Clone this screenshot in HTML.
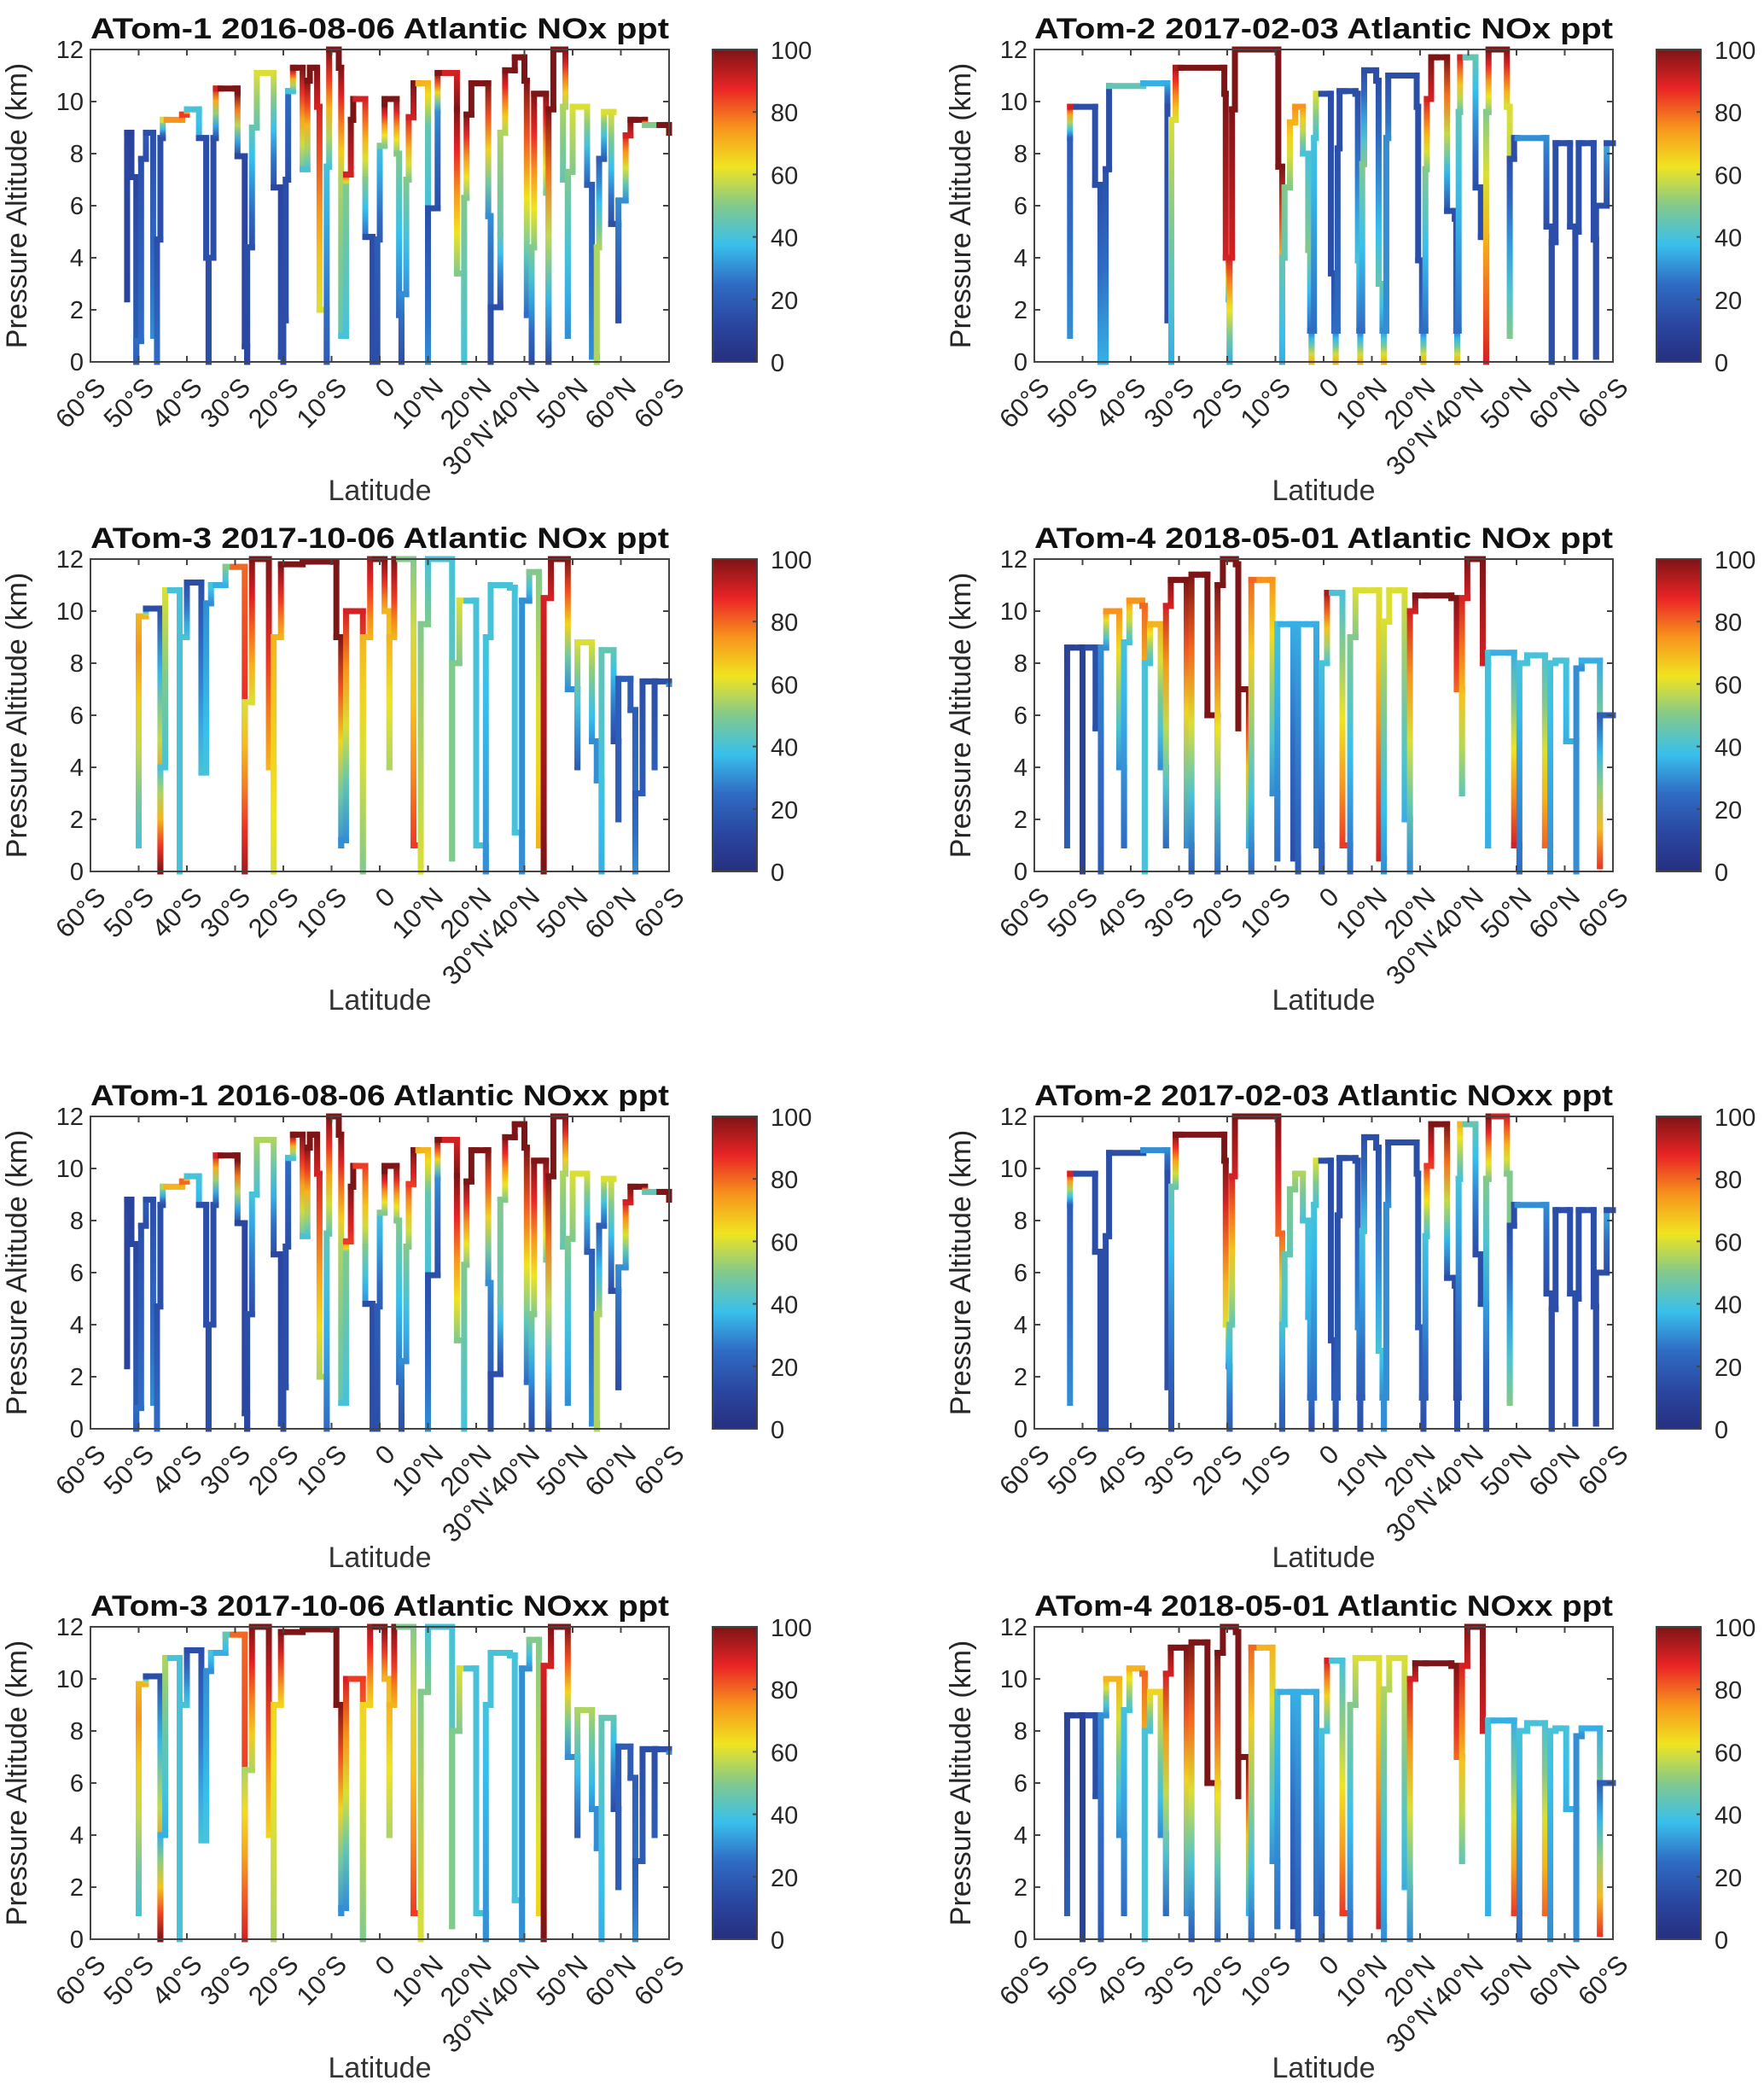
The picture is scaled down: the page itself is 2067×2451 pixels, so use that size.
<!DOCTYPE html>
<html><head><meta charset="utf-8">
<style>
html,body{margin:0;padding:0;background:#fff;}
svg{display:block;font-family:"Liberation Sans",Arial,sans-serif;}
</style></head>
<body>
<svg id="fig" xmlns="http://www.w3.org/2000/svg" width="2067" height="2451" viewBox="0 0 2067 2451">
<rect width="2067" height="2451" fill="#fff"/>
<defs>
<linearGradient id="jetbar" x1="0" y1="1" x2="0" y2="0">
<stop offset="0" stop-color="#262f7f"/><stop offset="0.12" stop-color="#2a46a0"/>
<stop offset="0.25" stop-color="#2f6cc4"/><stop offset="0.375" stop-color="#38c0ec"/>
<stop offset="0.5" stop-color="#82c98c"/><stop offset="0.625" stop-color="#f0e420"/>
<stop offset="0.75" stop-color="#f7941d"/><stop offset="0.875" stop-color="#ea2426"/>
<stop offset="1" stop-color="#7d1416"/>
</linearGradient>
</defs>
</svg>
<script>
// ---- axis tick data ----
const xTickPos = [0,1,2,3,4,5,6,7,8,9,9,10,11,12];
const xTickLabels = ['60°S','50°S','40°S','30°S','20°S','10°S','0','10°N','20°N','30°N\'','40°N','50°N','60°N','60°S'];
const yTicks = [0,2,4,6,8,10,12];
const cbTicks = [0,20,40,60,80,100];

// ---- ATom-1 track ----
const a1Lat = [0.76,0.76,0.85,0.85,0.95,0.95,1.05,1.05,1.15,1.15,1.3,1.3,1.38,1.45,1.5,1.58,1.9,2.0,2.2,2.25,2.35,2.4,2.45,2.55,2.6,2.7,3.0,3.05,3.05,3.15,3.2,3.25,3.35,3.45,3.6,3.75,3.8,3.95,3.95,4.0,4.05,4.1,4.1,4.2,4.25,4.4,4.4,4.5,4.55,4.65,4.7,4.75,4.9,4.95,5.0,5.15,5.2,5.2,5.3,5.3,5.4,5.45,5.5,5.7,5.7,5.7,5.8,5.85,5.95,6.0,6.0,6.1,6.1,6.3,6.35,6.4,6.45,6.55,6.6,6.7,6.8,6.95,7.0,7.0,7.1,7.2,7.2,7.35,7.5,7.6,7.6,7.75,7.8,7.9,8.0,8.2,8.25,8.3,8.4,8.5,8.5,8.6,8.8,8.95,9.0,9.05,9.15,9.2,9.3,9.4,9.45,9.5,9.6,9.7,9.85,9.85,9.8,9.9,10.0,10.1,10.2,10.3,10.4,10.5,10.55,10.65,10.75,10.85,10.8,10.9,10.95,11.1,11.2,11.3,11.5,11.8,11.9,12];
const a1Alt = [2.4,8.2,8.8,7.1,7.1,0,0.8,7.8,7.8,8.8,8.8,1.0,0,4.7,8.6,9.3,9.3,9.5,9.7,8.6,8.6,4.0,0,4.0,8.6,10.5,10.5,10.3,7.9,7.9,0.6,0,4.4,9,11.1,11.1,6.7,6.7,0.2,0,1.6,7,10.4,10.4,11.3,11.3,7.4,7.4,10.8,11.3,9.8,2,0,7.5,12,11.3,7,1,1,6.8,7.2,9.3,10.1,10.1,7,4.8,4.8,0,0,4.7,8.3,8.3,9.9,10.1,8,1.8,0,2.6,7,9.4,10.7,10.7,9,0,5.9,5.9,9.6,11.1,11.1,9.7,3.4,0,6.3,9.5,10.7,10.7,5.6,0,2.1,2.1,4.9,8.8,11.2,11.7,10.8,1.8,0,4.4,10.3,10.3,6.5,0,9.7,12,12,9.8,7,1.0,7.3,9.8,9.8,6.8,0.2,0,4.4,7.8,9.6,9.6,5.3,5.3,1.6,6.2,8.7,9.3,9.1,9.1,9.1,8.8];
const p1Val = [10,12,10,12,12,20,25,15,15,20,15,30,25,15,15,60,75,85,40,35,15,15,15,15,15,90,100,100,12,12,12,12,15,45,60,60,15,12,15,15,15,15,25,40,100,100,45,40,100,100,90,60,20,40,100,100,55,45,40,50,90,100,100,90,50,25,15,15,15,20,40,50,100,100,50,25,15,30,50,90,100,70,45,30,15,15,30,100,90,100,50,40,50,100,100,100,30,15,15,15,45,55,100,100,100,25,15,50,100,100,50,15,100,100,100,55,45,30,50,60,60,20,30,55,55,20,60,60,15,15,15,30,90,100,50,50,100,100];
const p5Val = [10,12,10,12,12,20,25,15,15,20,15,30,25,15,15,55,70,80,40,35,15,15,15,15,15,90,100,100,12,12,12,12,15,40,55,55,15,12,15,15,15,15,25,40,100,100,45,40,100,100,90,55,25,45,100,100,55,45,40,50,85,100,100,85,50,30,15,15,15,20,40,50,100,100,50,25,15,30,50,85,100,70,45,30,15,15,30,100,90,100,50,40,50,100,100,100,30,15,15,15,45,50,100,100,100,25,15,50,100,100,50,15,100,100,100,55,45,30,50,60,60,20,30,55,55,20,60,60,15,15,15,30,90,100,45,45,100,100];

// ---- ATom-2 track ----
const a2Lat = [0.74,0.74,0.87,1.26,1.26,1.37,1.37,1.48,1.55,1.55,2.26,2.26,2.69,2.76,2.76,2.84,2.93,3.04,3.89,3.94,3.97,4.03,4.05,4.10,4.16,4.27,5.03,5.06,5.14,5.19,5.30,5.41,5.49,5.57,5.68,5.72,5.75,5.80,5.84,5.95,6.11,6.15,6.22,6.25,6.29,6.33,6.44,6.66,6.71,6.74,6.76,6.80,6.84,6.93,7.09,7.14,7.22,7.25,7.30,7.34,7.45,7.85,7.93,7.96,8.04,8.07,8.11,8.14,8.23,8.34,8.53,8.56,8.72,8.75,8.77,8.80,8.83,8.94,9.10,9.15,9.26,9.37,9.42,9.53,9.75,9.80,9.86,9.95,10.02,10.56,10.62,10.73,10.81,10.87,11.05,11.11,11.22,11.29,11.38,11.57,11.60,11.65,11.73,11.87,11.87,12];
const a2Alt = [1.0,8.6,9.8,9.8,6.8,6.8,0,0,7.4,10.6,10.6,10.7,10.7,9.8,1.6,0,9.3,11.3,11.3,10.3,4,2.4,0,4,9.7,12,12,7.5,0,4,6.7,9.2,9.8,8,4.3,1.2,0,1.2,8.6,10.3,10.3,3.4,1.2,0,1.2,8.2,10.4,10.3,3.9,1.2,0,1.2,7.6,11.2,10.8,3,1.2,0,1.2,8.6,11,11,9.8,3.9,1.2,0,1.2,7.4,10.1,11.7,11.7,5.8,5.5,1.2,0,1.2,9.6,11.7,11.7,6.7,4.8,0,9.6,12,12,9.8,1.0,7.8,8.6,8.6,5.2,0,4.6,8.4,8.4,5.2,0.2,5,8.4,8.4,4.7,0.2,6,6,8.4,8.4];
const p2Val = [30,20,90,15,15,15,35,35,15,15,45,35,35,15,15,35,60,95,100,100,90,40,35,90,100,100,100,100,35,45,50,70,75,40,50,25,70,25,40,60,15,15,25,70,25,15,15,15,40,25,70,25,50,15,15,45,30,70,30,30,15,15,15,15,25,70,25,50,90,100,100,15,15,25,70,25,45,90,45,15,15,90,50,100,100,60,50,15,15,30,15,15,15,15,15,15,15,15,15,15,15,15,15,15,35,15];
const p6Val = [30,20,90,15,15,15,15,15,15,15,15,30,30,15,15,15,45,100,100,100,60,30,20,45,90,100,100,80,20,40,45,50,55,40,35,25,15,25,40,60,15,15,20,15,20,15,15,15,30,20,15,20,40,15,15,40,30,30,30,30,15,15,15,20,20,15,20,40,85,100,100,15,15,15,15,15,40,70,45,15,15,15,50,100,90,50,50,15,15,30,15,15,15,15,15,15,15,15,15,15,15,15,15,15,35,15];

// ---- ATom-3 track ----
const a3Lat = [1.0,1.0,1.15,1.4,1.45,1.55,1.65,1.8,1.85,2.0,2.05,2.25,2.3,2.4,2.5,2.6,2.8,2.95,3.1,3.2,3.35,3.5,3.6,3.7,3.8,3.95,4.0,4.4,4.5,5.0,5.1,5.2,5.3,5.4,5.55,5.65,5.8,5.9,6.0,6.1,6.2,6.3,6.4,6.6,6.7,6.85,7.0,7.1,7.35,7.5,7.65,7.8,7.95,8.0,8.2,8.3,8.5,8.7,8.8,8.95,9.1,9.25,9.3,9.4,9.55,9.7,9.8,9.9,10.1,10.2,10.4,10.5,10.6,10.7,10.85,10.95,11.05,11.2,11.3,11.45,11.55,11.7,11.75,12];
const a3Alt = [1,8.5,9.8,10.1,0,4,10.8,10.8,0,9,11.1,11.1,3.8,3.8,10.3,11,11,11.7,11.7,0,6.5,12,12,4,0,9,11.8,11.8,11.9,11.9,9,1,1.2,10,10,0,9,12,12,10,4,9,12,12,1,0,9.5,12,12,0.5,8,10.4,10.4,1,0,9,11,10.9,1.5,0,10.4,11.5,1,0,10.5,12,12,7,4,8.8,5,3.5,0,8.5,5,2,7.4,6.2,0,3,7.3,4,7.3,7.2];
const p3Val = [40,75,70,15,100,40,60,40,40,40,15,15,40,40,30,40,35,50,80,95,60,100,100,70,60,70,100,100,100,100,100,30,30,90,90,50,70,95,100,70,55,70,100,50,85,60,50,40,40,50,50,60,40,40,30,40,40,40,40,30,30,50,70,100,90,100,100,30,20,60,30,30,35,45,15,20,20,20,30,20,15,20,15,30];
const p7Val = [40,75,70,15,100,35,55,40,40,40,15,15,40,40,30,40,35,45,80,90,55,100,100,65,55,65,100,100,100,100,100,30,30,90,85,50,65,95,100,70,55,70,100,50,85,60,50,40,40,50,50,60,40,40,30,40,40,40,40,30,30,50,65,100,90,100,100,30,20,55,30,30,35,45,15,20,20,20,30,20,15,20,15,30];

// ---- ATom-4 track ----
const a4Lat = [0.68,0.78,0.95,1.00,1.11,1.22,1.27,1.38,1.49,1.65,1.76,1.86,1.97,2.08,2.24,2.29,2.40,2.51,2.62,2.73,2.83,2.94,3.10,3.16,3.26,3.37,3.53,3.59,3.80,3.91,4.02,4.18,4.23,4.40,4.45,4.50,4.67,4.88,4.94,5.04,5.10,5.31,5.37,5.47,5.64,5.80,5.85,5.96,6.07,6.17,6.34,6.39,6.55,6.66,6.82,7.04,7.15,7.25,7.36,7.58,7.68,7.79,7.90,8.12,8.65,8.76,8.87,8.98,9.09,9.25,9.30,9.41,9.52,9.84,9.95,10.06,10.22,10.38,10.59,10.70,10.81,10.92,11.03,11.24,11.35,11.46,11.67,11.73,11.83,12];
const a4Alt = [1,8.6,8.6,0,8.6,8.6,5.5,0,8.6,10,4,1,8.8,10.4,10.2,0,8,9.5,4,1,10.2,11.2,11.2,1,0,11.4,11.4,6,0,11,12,11.8,5.5,7,1,0,11.2,11.2,3,0.5,9.5,9.5,0.5,0,9.5,9.5,1,0,8,10.7,10.7,1,0,9,10.8,10.8,0.5,0,9.6,10.8,2,0,10,10.6,10.5,7,3,10.5,12,12,8,1,8.4,8.4,1,0,8,8.3,1,0,8,8.1,5,0,7.8,8.1,8.1,0.2,6,6];
const p4Val = [20,10,10,10,10,15,15,20,30,75,30,25,40,75,80,40,40,70,30,25,90,100,100,30,20,100,100,100,25,100,100,100,100,100,35,25,80,75,30,25,40,35,15,20,35,35,25,20,40,95,40,85,25,50,60,60,90,30,60,60,35,30,90,100,100,80,45,90,100,100,90,35,40,35,90,25,40,40,80,30,40,40,35,30,30,35,35,85,20,20];
const p8Val = [20,10,10,10,10,15,15,20,30,70,30,25,40,70,80,40,40,65,30,25,90,100,100,30,20,100,100,100,25,100,100,100,100,100,35,25,80,70,30,25,40,35,15,20,35,35,25,20,40,90,40,85,25,50,60,60,90,30,55,60,35,30,90,100,100,80,45,90,100,100,90,35,40,35,85,25,40,40,80,30,40,40,35,30,30,35,35,85,20,20];

// ---- panel layout ----
const colX = [106, 1212];
const rowY = [58, 655, 1308, 1906];
const PW = 678, PH = 366;

const panels = [
 {t:'ATom-1 2016-08-06  Atlantic  NOx  ppt', lat:a1Lat, alt:a1Alt, val:p1Val, c:0, r:0},
 {t:'ATom-2 2017-02-03  Atlantic  NOx  ppt', lat:a2Lat, alt:a2Alt, val:p2Val, c:1, r:0},
 {t:'ATom-3 2017-10-06  Atlantic  NOx  ppt', lat:a3Lat, alt:a3Alt, val:p3Val, c:0, r:1},
 {t:'ATom-4 2018-05-01  Atlantic  NOx  ppt', lat:a4Lat, alt:a4Alt, val:p4Val, c:1, r:1},
 {t:'ATom-1 2016-08-06  Atlantic  NOxx ppt', lat:a1Lat, alt:a1Alt, val:p5Val, c:0, r:2},
 {t:'ATom-2 2017-02-03  Atlantic  NOxx ppt', lat:a2Lat, alt:a2Alt, val:p6Val, c:1, r:2},
 {t:'ATom-3 2017-10-06  Atlantic  NOxx ppt', lat:a3Lat, alt:a3Alt, val:p7Val, c:0, r:3},
 {t:'ATom-4 2018-05-01  Atlantic  NOxx ppt', lat:a4Lat, alt:a4Alt, val:p8Val, c:1, r:3}
];

const NS = 'http://www.w3.org/2000/svg';
const svg = document.getElementById('fig');
const defs = svg.querySelector('defs');
function mk(tag, attrs, parent){
  const e = document.createElementNS(NS, tag);
  for (const k in attrs) e.setAttribute(k, attrs[k]);
  (parent||svg).appendChild(e);
  return e;
}
const cmapStops = [[0,[38,47,127]],[12,[42,70,160]],[25,[47,108,196]],[37.5,[56,192,236]],[50,[130,201,140]],[62.5,[240,228,32]],[75,[247,148,29]],[87.5,[234,36,38]],[100,[125,20,22]]];
function jet(v){
  v = Math.max(0, Math.min(100, v));
  for (let i=0;i<cmapStops.length-1;i++){
    const a=cmapStops[i], b=cmapStops[i+1];
    if (v<=b[0]){
      const t=(v-a[0])/(b[0]-a[0]);
      const c=a[1].map((x,k)=>Math.round(x+(b[1][k]-x)*t));
      return 'rgb('+c.join(',')+')';
    }
  }
  return 'rgb(125,20,22)';
}
let gid = 0;
function gradLine(parent, x1,y1,x2,y2,v1,v2){
  const id='sg'+(gid++);
  const lg = mk('linearGradient',{id:id, gradientUnits:'userSpaceOnUse', x1:x1, y1:y1, x2:x2+0.01, y2:y2+0.01}, defs);
  for (let k=0;k<=4;k++) mk('stop',{offset:k/4,'stop-color':jet(v1+(v2-v1)*k/4)},lg);
  const seg = mk('path',{d:'M'+x1+' '+y1+'L'+x2+' '+y2, stroke:'url(#'+id+')'}, parent);
  
  
}

panels.forEach((p, pi) => {
  const X0 = colX[p.c], Y0 = rowY[p.r];
  const xs = v => X0 + v/12*PW;
  const ys = v => Y0 + PH - v/12*PH;
  const g = mk('g', {});
  
  

  const title = mk('text', {x: X0 + PW/2, y: Y0 - 13, 'text-anchor':'middle', 'font-size':34, 'font-weight':'bold', fill:'#111', textLength: 678, lengthAdjust:'spacingAndGlyphs'}, g);
  title.textContent = p.t;
  
  

  const tg = mk('g', {'stroke-width':7, 'stroke-linecap':'square', fill:'none'}, g);
  
  
  const n = Math.min(p.lat.length, p.alt.length, p.val.length);
  for (let i=0;i<n-1;i++){
    const x1=xs(p.lat[i]), y1=ys(p.alt[i]), x2=xs(p.lat[i+1]), y2=ys(p.alt[i+1]);
    const v1=p.val[i], v2=p.val[i+1];
    if (p.alt[i+1] >= p.alt[i]) {
      if (y1!==y2) gradLine(tg, x1,y1,x1,y2,v1,v2);
      if (x1!==x2) gradLine(tg, x1,y2,x2,y2,v2,v2);
    } else {
      if (x1!==x2) gradLine(tg, x1,y1,x2,y1,v1,v1);
      gradLine(tg, x2,y1,x2,y2,v1,v2);
    }
  }

  const fr = mk('rect',{x:X0,y:Y0,width:PW,height:PH,fill:'none',stroke:'#444','stroke-width':2},g);
  
  

  yTicks.forEach(v => {
    const y = ys(v);
    mk('line',{x1:X0,y1:y,x2:X0+7,y2:y,stroke:'#444','stroke-width':2},g);
    mk('line',{x1:X0+PW,y1:y,x2:X0+PW-7,y2:y,stroke:'#444','stroke-width':2},g);
    const t = mk('text',{x:X0-8,y:y+10,'text-anchor':'end','font-size':29,fill:'#262626'},g);
    t.textContent = v;
    
    
  });
  xTickPos.forEach((v,i) => {
    const x = xs(v);
    mk('line',{x1:x,y1:Y0+PH,x2:x,y2:Y0+PH-7,stroke:'#444','stroke-width':2},g);
    mk('line',{x1:x,y1:Y0,x2:x,y2:Y0+7,stroke:'#444','stroke-width':2},g);
    // the 30°N label is pushed down the diagonal, ahead of 40°N
    const sh = (i===9) ? 50 : 0;
    const t = mk('text',{transform:'translate('+(x+12-sh)+','+(Y0+PH+24+sh)+') rotate(-45)','text-anchor':'end','font-size':31,fill:'#262626',dy:'0.35em'},g);
    t.textContent = xTickLabels[i];
    
    
  });
  const yl = mk('text',{transform:'translate('+(X0-75)+','+(Y0+PH/2)+') rotate(-90)','text-anchor':'middle','font-size':34,fill:'#262626'},g);
  yl.textContent = 'Pressure Altitude (km)';
  
  
  const xl = mk('text',{x:X0+PW/2,y:Y0+PH+162,'text-anchor':'middle','font-size':34,fill:'#333'},g);
  xl.textContent = 'Latitude';
  
  

  const CX = X0 + 729, CW = 52;
  const cb = mk('rect',{x:CX,y:Y0,width:CW,height:PH,fill:'url(#jetbar)',stroke:'#444','stroke-width':2},g);
  
  
  cbTicks.forEach(v => {
    const y = Y0 + PH - v/100*PH;
    mk('line',{x1:CX+CW,y1:y,x2:CX+CW-5,y2:y,stroke:'#444','stroke-width':2},g);
    const t = mk('text',{x:CX+CW+16,y:y+11,'font-size':29,fill:'#262626'},g);
    t.textContent = v;
    
    
  });
});
</script>
</body></html>
